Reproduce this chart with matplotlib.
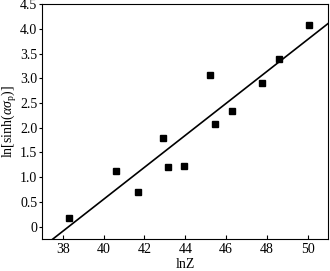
import numpy as np
import matplotlib
matplotlib.use("Agg")
import matplotlib.pyplot as plt

# data
lnZ = [38.30, 40.61, 41.67, 42.90, 43.14, 43.96, 45.23, 45.46, 46.30, 47.73, 48.58, 50.07]
ln_sinh = [0.18, 1.13, 0.70, 1.80, 1.21, 1.23, 3.06, 2.07, 2.33, 2.90, 3.39, 4.08]
xticks = [38, 40, 42, 44, 46, 48, 50]
yticks = [0, 0.5, 1.0, 1.5, 2.0, 2.5, 3.0, 3.5, 4.0, 4.5]
ytick_labels = ["0", "0.5", "1.0", "1.5", "2.0", "2.5", "3.0", "3.5", "4.0", "4.5"]

plt.rcParams['font.family'] = ['Liberation Serif', 'DejaVu Serif']
plt.rcParams['mathtext.fontset'] = 'custom'
plt.rcParams['mathtext.rm'] = 'Liberation Serif'
plt.rcParams['mathtext.it'] = 'Liberation Serif:italic'

fig = plt.figure(figsize=(3.3, 2.71), dpi=100)
ax = fig.add_axes([0.128, 0.118, 0.867, 0.867])

# linear fit through the points
k, b = np.polyfit(lnZ, ln_sinh, 1)
xx = np.array([36, 52])
ax.plot(xx, k * xx + b, color='black', lw=1.2)
ax.plot(lnZ, ln_sinh, 's', color='black', ms=4.3)

ax.set_xlim(37, 51)
ax.set_ylim(-0.25, 4.5)
ax.set_xticks(xticks)
ax.set_yticks(yticks)
ax.set_yticklabels(ytick_labels)
ax.tick_params(axis='x', direction='in', length=3, width=0.8, labelsize=10, pad=3)
ax.tick_params(axis='y', direction='out', length=2.5, width=0.8, labelsize=10, pad=1)
for s in ax.spines.values():
    s.set_linewidth(0.8)

ax.set_xlabel('lnZ', fontsize=10, labelpad=1)
ax.set_ylabel(r'ln[sinh($\alpha\sigma_{\mathrm{p}}$)]', fontsize=10, labelpad=1)

fig.savefig('out.png', dpi=100)
